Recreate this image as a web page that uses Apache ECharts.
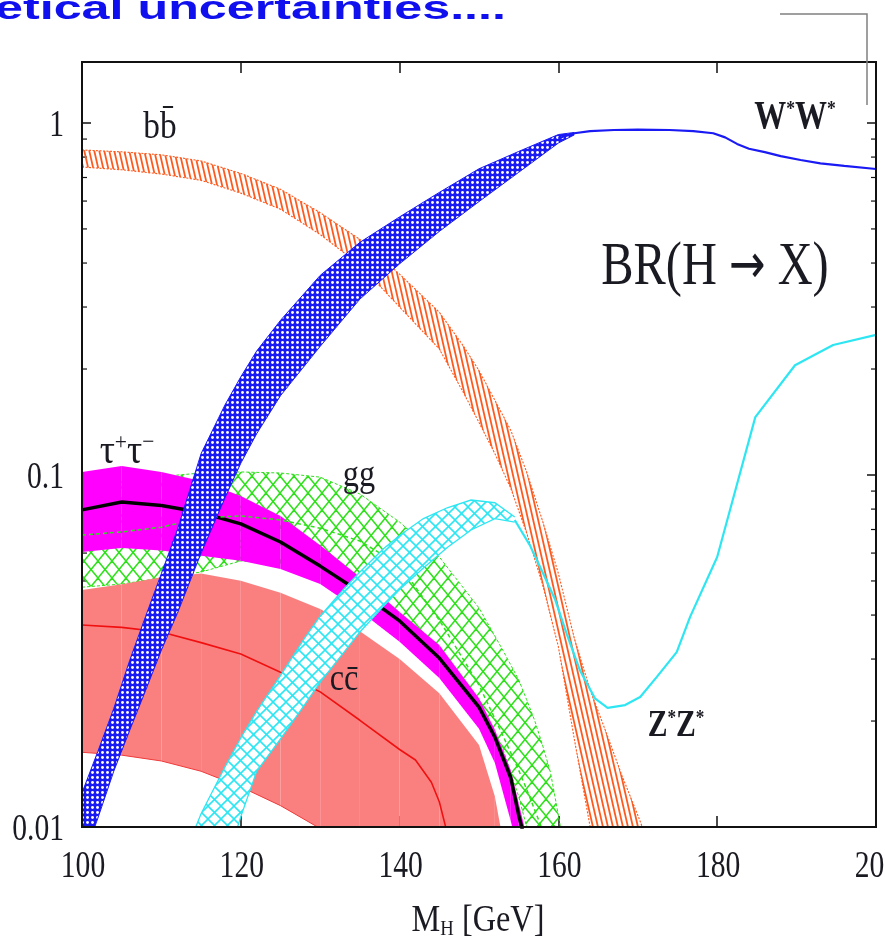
<!DOCTYPE html>
<html><head><meta charset="utf-8">
<script src="https://cdn.jsdelivr.net/npm/echarts@6/dist/echarts.min.js"></script>
<style>html,body{margin:0;padding:0;background:#fff;overflow:hidden}#c{width:885px;height:942px}</style>
</head><body><div id="c"></div>
<script>
// ---------------- data ----------------
const xTicks = [100, 120, 140, 160, 180, 200];
const yTicks = [0.01, 0.1, 1];
const yMinor = [0.02,0.03,0.04,0.05,0.06,0.07,0.08,0.09,0.2,0.3,0.4,0.5,0.6,0.7,0.8,0.9];

// b b-bar band
const bbX  = [100,105,110,115,120,125,130,135,140,145,148,150,152,154,156,158,160,162,164,166,168,170,172];
const bbHi = [0.838,0.828,0.812,0.780,0.719,0.648,0.556,0.467,0.372,0.290,0.233,0.198,0.163,0.134,0.102,0.0741,0.0525,0.0344,0.0245,0.0186,0.0140,0.0108,0.0082];
const bbLo = [0.750,0.736,0.716,0.687,0.632,0.569,0.482,0.395,0.300,0.228,0.172,0.141,0.115,0.0917,0.0684,0.0489,0.0325,0.0178,0.0100,0.0068,0.0050,0.0038,0.0030];

// W*W* band and line
const wwX  = [100,102,104,106,108,110,112,115,118,120,122,125,130,135,140,145,150,155,160,162];
const wwHi = [0.0125,0.0164,0.0217,0.0297,0.0396,0.0525,0.0698,0.115,0.158,0.190,0.225,0.275,0.369,0.458,0.541,0.635,0.741,0.830,0.927,0.940];
const wwLo = [0.0079,0.0106,0.0144,0.0188,0.0244,0.0318,0.0404,0.060,0.086,0.108,0.131,0.168,0.232,0.316,0.398,0.492,0.598,0.724,0.877,0.925];
const wwLineX = [160,162,164,167,170,174,177,179.5,181,182.5,184,186,188,190.5,193,196,200];
const wwLineY = [0.905,0.935,0.948,0.955,0.957,0.955,0.948,0.935,0.910,0.872,0.845,0.826,0.805,0.785,0.768,0.755,0.740];

// Z*Z* band and line
const zzX  = [114,115,118,120,122,125,128,130,133,135,138,140,143,146,149,152,154.5];
const zzHi = [0.0096,0.0109,0.0148,0.0179,0.0213,0.0269,0.0343,0.0397,0.0475,0.053,0.0618,0.0673,0.0752,0.0807,0.0849,0.0834,0.076];
const zzLo = [0.0040,0.0048,0.0077,0.0107,0.0144,0.0178,0.0222,0.0258,0.0314,0.0358,0.0424,0.0473,0.0544,0.0622,0.0698,0.0752,0.0735];
const zzLineX = [154.5,156.4,157.7,159.6,161.1,162.7,164.6,166.2,168.4,170.3,172.4,174.9,176.6,180,184.8,189.8,194.6,200];
const zzLineY = [0.0745,0.0632,0.0548,0.0442,0.0351,0.0279,0.0232,0.0218,0.0222,0.0234,0.0267,0.0314,0.0396,0.0585,0.146,0.205,0.234,0.250];

// tau+ tau- band and central line
const ttX  = [100,105,110,115,120,125,130,135,140,145,150,152,154,155,156,157];
const ttHi = [0.102,0.106,0.102,0.0962,0.0871,0.0765,0.0632,0.0513,0.0408,0.0329,0.0232,0.0189,0.0145,0.0117,0.0094,0.0076];
const ttLo = [0.0604,0.0620,0.0610,0.0590,0.0571,0.0541,0.0490,0.0411,0.0336,0.0265,0.0190,0.0152,0.0104,0.0085,0.0070,0.0058];
const ttC  = [0.0796,0.0838,0.0819,0.0782,0.0726,0.0645,0.0551,0.0465,0.0385,0.0302,0.0219,0.0180,0.0138,0.0108,0.0088,0.0072];

// c c-bar band and central line
const ccX  = [100,105,110,115,120,125,130,135,140,145,150,152,153,154];
const ccHi = [0.0471,0.0489,0.0512,0.0525,0.0501,0.0463,0.0416,0.0360,0.0300,0.0240,0.0171,0.0122,0.0092,0.0070];
const ccLo = [0.0163,0.0160,0.0154,0.0144,0.0130,0.0115,0.0099,0.0083,0.0068,0.0052,0.0040,0.0036,0.0034,0.0032];
const ccLineX = [100,105,110,115,120,125,130,135,140,142,144,145,146,147];
const ccLineY = [0.0375,0.0369,0.0358,0.0334,0.0310,0.0275,0.0242,0.0201,0.0166,0.0155,0.0134,0.0118,0.0096,0.0080];

// g g band and central line
const ggX  = [100,105,110,115,120,125,130,135,140,145,150,153,155,156,157,158,159,160,161];
const ggHi = [0.093,0.096,0.099,0.1013,0.102,0.1013,0.0986,0.0883,0.0735,0.0585,0.0419,0.0318,0.0262,0.0230,0.0201,0.0171,0.0143,0.0108,0.0080];
const ggLo = [0.048,0.049,0.051,0.053,0.057,0.056,0.052,0.045,0.038,0.030,0.0215,0.0167,0.0122,0.0100,0.0083,0.0070,0.0060,0.0052,0.0045];
const ggC  = [0.0675,0.0689,0.0711,0.0755,0.0765,0.0745,0.0706,0.0649,0.0555,0.0387,0.0253,0.0182,0.0145,0.0128,0.0112,0.0098,0.0086,0.0075,0.0066];

// ---------------- styles ----------------
const SERIF = '"Liberation Serif", "DejaVu Serif", serif';
const C = {orange:'#FF5A1E', blue:'#1A1AF5', cyan:'#2EE6F2', green:'#2EE01A', magenta:'#FF00FF', salmon:'#FA8080', red:'#F01010', ink:'#1a1a22'};

function tile(w, h, draw) {
  const c = document.createElement('canvas'); c.width = w; c.height = h;
  const g = c.getContext('2d'); draw(g, w, h); return c;
}
function diag(g, w, h, dir) {
  for (let k = -3; k <= 4; k++) {
    g.beginPath();
    if (dir > 0) { g.moveTo(k*w - w, -h); g.lineTo(k*w + 2*w, 2*h); }
    else { g.moveTo(k*w + w, -h); g.lineTo(k*w - 2*w, 2*h); }
    g.stroke();
  }
}
const patGreen = {image: tile(14, 17, (g,w,h)=>{g.strokeStyle=C.green; g.lineWidth=1.5; diag(g,w,h,1); diag(g,w,h,-1);}), repeat:'repeat'};
const patCyan = {image: tile(13, 13, (g,w,h)=>{g.fillStyle='#fff'; g.fillRect(0,0,w,h); g.strokeStyle=C.cyan; g.lineWidth=1.6; diag(g,w,h,1); diag(g,w,h,-1);}), repeat:'repeat'};
const patOrange = {image: tile(5, 22, (g,w,h)=>{g.strokeStyle=C.orange; g.lineWidth=1.8; diag(g,w,h,1);}), repeat:'repeat'};
const patBlue = {image: tile(5, 5, (g,w,h)=>{g.fillStyle=C.blue; g.fillRect(0,0,w,h); g.fillStyle='#fff'; g.beginPath(); g.arc(2.5,2.5,1.45,0,Math.PI*2); g.fill();}), repeat:'repeat'};

function clipOf(cs) { return {type:'rect', shape:{x:cs.x, y:cs.y, width:cs.width, height:cs.height}}; }

function band(o) {
  return {
    type:'custom', coordinateSystem:'cartesian2d', z:o.z, silent:true,
    data:[[o.x[0], o.hi[0]]],
    renderItem(params, api) {
      const cs = params.coordSys;
      const top = o.x.map((x,i)=>api.coord([x, o.hi[i]]));
      const bot = o.x.map((x,i)=>api.coord([x, o.lo[i]]));
      const ch = [];
      if (o.strips) {
        for (let i = 0; i < o.x.length - 1; i++)
          ch.push({type:'polygon', shape:{points:[top[i], top[i+1], bot[i+1], bot[i]]}, style:{fill:o.fill}});
      } else {
        ch.push({type:'polygon', shape:{points: top.concat(bot.slice().reverse())}, style:{fill:o.fill}});
      }
      if (o.edge) {
        const st = {stroke:o.edge, lineWidth:o.edgeW || 1, lineDash:o.dash || null, fill:null};
        if (o.edgeTop !== false) ch.push({type:'polyline', shape:{points:top}, style:Object.assign({}, st)});
        ch.push({type:'polyline', shape:{points:bot}, style:Object.assign({}, st)});
      }
      return {type:'group', children:ch, clipPath:clipOf(cs)};
    }
  };
}
function line(xs, ys, color, width, z, dash) {
  return {type:'line', z:z, silent:true, showSymbol:false, symbol:'none', smooth:false, clip:true,
    data: xs.map((x,i)=>[x, ys[i]]),
    lineStyle:{color:color, width:width, type: dash || 'solid'}};
}

const minorTicks = {
  type:'custom', z:1, silent:true, data:[[150, 0.1]],
  renderItem(params, api) {
    const ch = [];
    yMinor.forEach(v => {
      const a = api.coord([xTicks[0], v]), b = api.coord([xTicks[xTicks.length-1], v]);
      ch.push({type:'line', shape:{x1:a[0], y1:a[1], x2:a[0]+5, y2:a[1]}, style:{stroke:'#111', lineWidth:1.2}});
      ch.push({type:'line', shape:{x1:b[0]-5, y1:b[1], x2:b[0], y2:b[1]}, style:{stroke:'#111', lineWidth:1.2}});
    });
    return {type:'group', children:ch};
  }
};
const frame = {
  type:'custom', z:20, silent:true, data:[[150, 0.1]],
  renderItem(params) {
    const cs = params.coordSys;
    return {type:'rect', shape:{x:cs.x, y:cs.y, width:cs.width, height:cs.height}, style:{fill:'none', stroke:'#111', lineWidth:2}};
  }
};
const tickLabels = {
  type:'custom', z:21, silent:true, data:[[150, 0.1]],
  renderItem(params, api) {
    const ch = [];
    xTicks.forEach(v => {
      const p = api.coord([v, yTicks[0]]);
      ch.push({type:'text', x:p[0]+1, y:p[1]+40, scaleX:0.8,
        style:{text:String(v), fontFamily:SERIF, fontSize:37, fill:C.ink, align:'center', verticalAlign:'middle'}});
    });
    yTicks.forEach(v => {
      const p = api.coord([xTicks[0], v]);
      ch.push({type:'text', x:p[0]-18, y:p[1]+3, scaleX:0.8,
        style:{text:String(v), fontFamily:SERIF, fontSize:37, fill:C.ink, align:'right', verticalAlign:'middle'}});
    });
    return {type:'group', children:ch};
  }
};

const axisCommonX = {type:'value', min:100, max:200, interval:20, axisLine:{show:false},
  axisTick:{show:true, inside:true, length:11, lineStyle:{color:'#111', width:1.5}}, axisLabel:{show:false}, splitLine:{show:false}};
const axisCommonY = {type:'log', logBase:10, min:0.01, max:1.49, axisLine:{show:false},
  axisTick:{show:true, inside:true, length:9, lineStyle:{color:'#111', width:1.5}}, axisLabel:{show:false}, splitLine:{show:false}};

const mctx = document.createElement('canvas').getContext('2d');
function fit(text, font, target) { mctx.font = font; return target / mctx.measureText(text).width; }
const titleText = 'etical uncertainties....';
const titleScale = fit(titleText, '700 34px "Liberation Sans"', 511);

const chart = echarts.init(document.getElementById('c'), null, {renderer:'canvas'});
chart.setOption({
  animation:false,
  backgroundColor:'#fff',
  grid:{left:82, top:62, width:794, height:765},
  xAxis:[Object.assign({position:'bottom'}, axisCommonX), Object.assign({position:'top'}, axisCommonX)],
  yAxis:[Object.assign({position:'left'}, axisCommonY), Object.assign({position:'right'}, axisCommonY)],
  series:[
    minorTicks,
    band({x:ggX, hi:ggHi, lo:ggLo, fill:patGreen, edge:C.green, edgeW:1, dash:[3,2], z:2}),
    band({x:ccX, hi:ccHi, lo:ccLo, fill:C.salmon, strips:true, z:3, edge:'#F03A3A', edgeW:1, edgeTop:false}),
    line(ccLineX, ccLineY, C.red, 1.6, 4),
    band({x:ttX, hi:ttHi, lo:ttLo, fill:C.magenta, strips:true, z:5}),
    line(ttX, ttC, '#000', 3.5, 6),
    line(ggX, ggC, C.green, 1.5, 7, [4,3]),
    band({x:bbX, hi:bbHi, lo:bbLo, fill:patOrange, edge:C.orange, edgeW:1.1, dash:[2,1.5], z:8}),
    band({x:zzX, hi:zzHi, lo:zzLo, fill:patCyan, edge:C.cyan, edgeW:1.3, z:9}),
    line(zzLineX, zzLineY, C.cyan, 2.2, 10),
    band({x:wwX, hi:wwHi, lo:wwLo, fill:patBlue, edge:C.blue, edgeW:1, z:11}),
    line(wwLineX, wwLineY, C.blue, 2.2, 12),
    frame,
    tickLabels
  ],
  graphic:[
    {type:'text', x:-5, y:10, scaleX:titleScale, z:100, style:{text:titleText, fontFamily:'"Liberation Sans"', fontWeight:'bold', fontSize:34, fill:'#1010EE', align:'left', verticalAlign:'middle'}},
    {type:'polyline', z:100, shape:{points:[[780,14],[867,14],[867,105]]}, style:{stroke:'#808080', lineWidth:1.5, fill:null}},
    {type:'text', x:160, y:128, scaleX:0.9, z:100, style:{text:'bb\u0304', fontFamily:SERIF, fontSize:37, fill:C.ink, align:'center', verticalAlign:'middle'}},
    {type:'text', x:795, y:118, scaleX:0.8, z:100, style:{text:'{w|W}{s|*}{w|W}{s|*}', align:'center', verticalAlign:'middle',
      rich:{w:{fontFamily:SERIF, fontWeight:'bold', fontSize:40, fill:C.ink}, s:{fontFamily:SERIF, fontWeight:'bold', fontSize:22, fill:C.ink, verticalAlign:'top'}}}},
    {type:'text', x:715, y:268, scaleX:0.78, z:100, style:{text:'{a|BR(H }{r|\u2192}{a| X)}', align:'center', verticalAlign:'middle',
      rich:{a:{fontFamily:SERIF, fontSize:62, fill:C.ink}, r:{fontFamily:'"DejaVu Sans"', fontSize:56, fill:C.ink}}}},
    {type:'text', x:127, y:452, scaleX:0.9, z:100, style:{text:'{t|\u03c4}{p|+}{t|\u03c4}{p|\u2212}', align:'center', verticalAlign:'middle',
      rich:{t:{fontFamily:SERIF, fontSize:42, fill:C.ink}, p:{fontFamily:SERIF, fontSize:24, fill:C.ink, verticalAlign:'top'}}}},
    {type:'text', x:359, y:476, scaleX:0.85, z:100, style:{text:'gg', fontFamily:SERIF, fontSize:38, fill:C.ink, align:'center', verticalAlign:'middle'}},
    {type:'text', x:344, y:680, scaleX:0.85, z:100, style:{text:'cc\u0304', fontFamily:SERIF, fontSize:38, fill:C.ink, align:'center', verticalAlign:'middle'}},
    {type:'text', x:676, y:726, scaleX:0.78, z:100, style:{text:'{w|Z}{s|*}{w|Z}{s|*}', align:'center', verticalAlign:'middle',
      rich:{w:{fontFamily:SERIF, fontWeight:'bold', fontSize:38, fill:C.ink}, s:{fontFamily:SERIF, fontWeight:'bold', fontSize:22, fill:C.ink, verticalAlign:'top'}}}},
    {type:'text', x:478, y:921, scaleX:0.85, z:100, style:{text:'{m|M}{h|H}{m| [GeV]}', align:'center', verticalAlign:'middle',
      rich:{m:{fontFamily:SERIF, fontSize:38, fill:C.ink}, h:{fontFamily:SERIF, fontSize:22, fill:C.ink, verticalAlign:'bottom'}}}}
  ]
});
</script>
</body></html>
